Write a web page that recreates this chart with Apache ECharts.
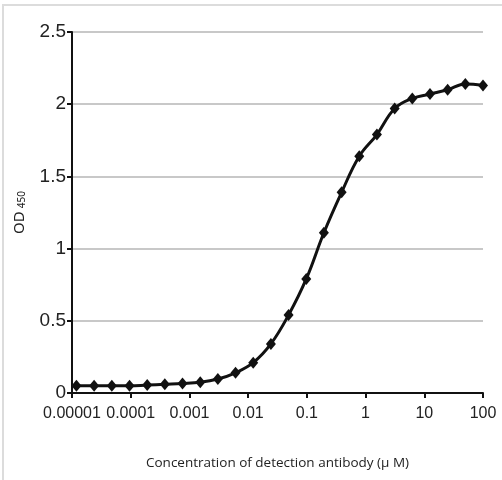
<!DOCTYPE html>
<html>
<head>
<meta charset="utf-8">
<script src="https://cdn.jsdelivr.net/npm/echarts@6/dist/echarts.min.js"></script>
<style>html,body{margin:0;padding:0;background:#fff;}#c{width:502px;height:480px;}</style>
</head>
<body>
<div id="c"></div>
<script>
const concentrations = [0.0000119, 0.0000238, 0.0000477, 0.0000954, 0.000191, 0.000381, 0.000763, 0.00153, 0.00305, 0.0061, 0.0122, 0.0244, 0.0488, 0.0977, 0.195, 0.391, 0.781, 1.56, 3.13, 6.25, 12.5, 25, 50, 100];
const od450 = [0.05, 0.05, 0.05, 0.05, 0.055, 0.06, 0.065, 0.074, 0.097, 0.14, 0.21, 0.34, 0.54, 0.79, 1.11, 1.39, 1.64, 1.79, 1.97, 2.04, 2.07, 2.10, 2.14, 2.13];
const xTickLabels = ['0.00001', '0.0001', '0.001', '0.01', '0.1', '1', '10', '100'];
const yTickLabels = ['0', '0.5', '1', '1.5', '2', '2.5'];
const xTitle = 'Concentration of detection antibody (\u03bc M)';
const yTitleMain = 'OD';
const yTitleSub = '450';

const tickFont = "'Liberation Sans Narrow', 'Liberation Sans', Arial, sans-serif";
const nameFont = "'Noto Sans', 'Liberation Sans', sans-serif";
const chart = echarts.init(document.getElementById('c'));
chart.setOption({
  backgroundColor: '#fff',
  animation: false,
  graphic: [{
    type: 'rect', shape: {x: 3, y: 5, width: 700, height: 700},
    style: {fill: 'none', stroke: '#dcdcdc', lineWidth: 2}, silent: true
  }],
  grid: {left: 72, right: 19, top: 32, bottom: 87},
  xAxis: {
    type: 'log', logBase: 10, min: 0.00001, max: 100,
    axisLine: {lineStyle: {color: '#111', width: 2}},
    axisTick: {show: true, length: 5, lineStyle: {color: '#111', width: 2}},
    splitLine: {show: false},
    minorTick: {show: false},
    axisLabel: {
      color: '#222', fontFamily: tickFont, fontSize: 16, margin: 13,
      interval: 0, showMinLabel: true, showMaxLabel: true, hideOverlap: false,
      formatter: function (v) { const i = Math.round(Math.log10(v)) + 5; return xTickLabels[i] !== undefined ? xTickLabels[i] : ''; }
    },
    name: xTitle, nameLocation: 'middle', nameGap: 63,
    nameTextStyle: {color: '#222', fontFamily: "'Open Sans', 'Noto Sans', sans-serif", fontSize: 13.5}
  },
  yAxis: {
    type: 'value', min: 0, max: 2.5, interval: 0.5,
    axisLine: {show: true, lineStyle: {color: '#111', width: 2}},
    axisTick: {show: true, length: 5, lineStyle: {color: '#111', width: 2}},
    splitLine: {show: true, lineStyle: {color: '#c8c8c8', width: 2}},
    axisLabel: {
      color: '#222', fontFamily: tickFont, fontSize: 19, margin: 6,
      formatter: function (v) { const i = Math.round(v / 0.5); return yTickLabels[i] !== undefined ? yTickLabels[i] : ''; }
    },
    name: '{a|' + yTitleMain + '} {b|' + yTitleSub + '}', nameLocation: 'middle', nameGap: 45,
    nameTextStyle: {
      fontFamily: nameFont,
      rich: {
        a: {color: '#222', fontFamily: nameFont, fontSize: 15, lineHeight: 18, verticalAlign: 'bottom'},
        b: {color: '#222', fontFamily: nameFont, fontSize: 10, lineHeight: 18, verticalAlign: 'bottom', padding: [8, 0, 0, 0]}
      }
    }
  },
  series: [{
    type: 'line',
    data: concentrations.map((x, i) => [x, od450[i]]),
    smooth: 0.4,
    symbol: 'diamond', symbolSize: [10, 12],
    lineStyle: {color: '#111', width: 3},
    itemStyle: {color: '#111'}
  }]
});
</script>
</body>
</html>
